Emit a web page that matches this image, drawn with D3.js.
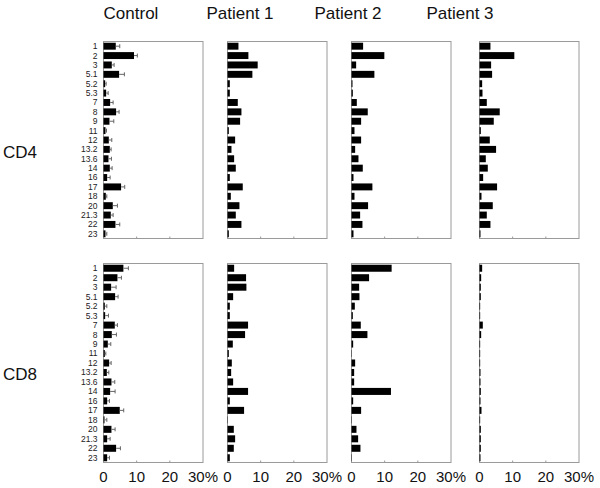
<!DOCTYPE html>
<html><head><meta charset="utf-8">
<script src="https://cdn.jsdelivr.net/npm/d3@7"></script>
<style>body{margin:0;background:#fff}svg{display:block}text{font-family:"Liberation Sans",Arial,sans-serif}</style>
</head><body><div id="chart"></div>
<script>
const categories = ["1","2","3","5.1","5.2","5.3","7","8","9","11","12","13.2","13.6","14","16","17","18","20","21.3","22","23"];
const groups = ["Control","Patient 1","Patient 2","Patient 3"];
const rows = ["CD4","CD8"];
const xTicks = [0,10,20,30];
const xTickLabels = ["0","10","20","30%"];

const cd4Control    = [3.7,9.2,2.5,4.7,0.5,0.8,2.0,3.8,1.8,0.6,1.6,1.9,1.5,1.9,1.1,5.3,0.7,2.8,2.2,3.6,0.6];
const cd4ControlErr = [1.2,1.0,0.7,1.6,0.3,0.6,0.9,0.9,1.3,0.3,0.9,0.4,0.9,0.7,0.9,1.1,0.3,1.4,0.7,1.3,0.4];
const cd4Patient1   = [3.3,6.3,9.1,7.5,0.7,0.7,3.1,4.2,3.8,0.4,2.3,1.2,2.0,2.5,0.7,4.6,1.0,3.6,2.5,4.2,0.4];
const cd4Patient2   = [3.5,9.9,1.4,6.9,0.3,0.4,1.6,4.9,2.9,0.9,2.9,1.1,2.1,3.4,0.6,6.3,0.9,5.0,2.6,3.3,0.6];
const cd4Patient3   = [3.3,10.5,3.5,3.8,0.8,0.9,2.2,6.1,4.3,0.4,3.1,5.0,1.9,2.5,1.1,5.3,0.6,4.0,2.2,3.3,0.3];

const cd8Control    = [6.0,4.2,2.3,3.5,0.4,0.5,3.4,2.5,1.3,0.4,1.7,1.0,2.4,2.0,1.1,4.9,0.3,2.4,1.1,3.8,1.1];
const cd8ControlErr = [1.5,1.2,1.5,0.9,0.6,1.0,0.8,1.4,0.9,0.3,0.6,0.6,1.0,1.5,0.7,1.2,0.7,1.1,0.9,1.3,0.7];
const cd8Patient1   = [2.0,5.6,5.7,1.7,0.7,0.7,6.2,5.3,1.6,0.4,1.3,1.1,1.7,6.2,0.7,5.0,0.1,1.9,2.3,1.9,0.7];
const cd8Patient2   = [12.1,5.3,2.3,2.4,1.0,0.4,2.8,4.8,0.5,0.1,1.1,0.8,0.8,11.9,0.5,2.9,0.1,1.5,2.0,2.7,0.1];
const cd8Patient3   = [0.8,0.5,0.4,0.4,0.2,0.2,1.0,0.5,0.2,0.2,0.2,0.3,0.3,0.4,0.3,0.6,0.2,0.4,0.4,0.4,0.3];

const panels = [
  {row:0,col:0,vals:cd4Control,err:cd4ControlErr},
  {row:0,col:1,vals:cd4Patient1},
  {row:0,col:2,vals:cd4Patient2},
  {row:0,col:3,vals:cd4Patient3},
  {row:1,col:0,vals:cd8Control,err:cd8ControlErr},
  {row:1,col:1,vals:cd8Patient1},
  {row:1,col:2,vals:cd8Patient2},
  {row:1,col:3,vals:cd8Patient3}
];

const W=600,H=488;
const svg=d3.select("#chart").append("svg").attr("width",W).attr("height",H);
const colX=[103.5,227.5,351.5,479.5];
const pw=99.5;
const rowY=[41.5,263.5];
const ph=[197,199];
const titleX=[131,240,348,460];
const rowLabelY=[158,380];

groups.forEach((g,i)=>{
  svg.append("text").attr("x",titleX[i]).attr("y",19).attr("text-anchor","middle")
    .attr("font-size",17).attr("fill","#111").text(g);
});
rows.forEach((r,i)=>{
  svg.append("text").attr("x",3).attr("y",rowLabelY[i]).attr("font-size",17).attr("fill","#111").text(r);
});

panels.forEach(p=>{
  const x0=colX[p.col], y0=rowY[p.row], h=ph[p.row];
  const x=d3.scaleLinear().domain([0,30]).range([x0,x0+pw]);
  const y=d3.scaleBand().domain(categories).range([y0,y0+h]).paddingInner(0.26).paddingOuter(0.13);
  const g=svg.append("g");
  g.append("rect").attr("x",x0).attr("y",y0).attr("width",pw).attr("height",h)
    .attr("fill","none").attr("stroke","#9a9a9a").attr("stroke-width",1);
  g.selectAll(".tk").data(xTicks.slice(1,3)).enter().append("line")
    .attr("x1",d=>x(d)).attr("x2",d=>x(d)).attr("y1",y0+h).attr("y2",y0+h-2)
    .attr("stroke","#9a9a9a");
  g.selectAll(".bar").data(p.vals).enter().append("rect")
    .attr("x",x(0)).attr("y",(d,i)=>y(categories[i]))
    .attr("width",d=>x(d)-x(0)).attr("height",y.bandwidth()).attr("fill","#000");
  if(p.err){
    g.selectAll(".eb").data(p.vals).enter().append("line")
      .attr("x1",d=>x(d)).attr("x2",(d,i)=>x(d+p.err[i]))
      .attr("y1",(d,i)=>y(categories[i])+y.bandwidth()/2).attr("y2",(d,i)=>y(categories[i])+y.bandwidth()/2)
      .attr("stroke","#666").attr("stroke-width",1);
    g.selectAll(".ec").data(p.vals).enter().append("line")
      .attr("x1",(d,i)=>x(d+p.err[i])).attr("x2",(d,i)=>x(d+p.err[i]))
      .attr("y1",(d,i)=>y(categories[i])+y.bandwidth()/2-2).attr("y2",(d,i)=>y(categories[i])+y.bandwidth()/2+2)
      .attr("stroke","#666").attr("stroke-width",1);
  }
  if(p.col===0){
    g.selectAll(".cl").data(categories).enter().append("text")
      .attr("x",x0-6).attr("y",d=>y(d)+y.bandwidth()/2).attr("dy","0.35em")
      .attr("text-anchor","end").attr("font-size",8.5).attr("fill","#222").text(d=>d);
  }
  if(p.row===1){
    g.selectAll(".tl").data(xTicks).enter().append("text")
      .attr("x",d=>x(d)).attr("y",y0+h+19).attr("text-anchor","middle")
      .attr("font-size",15).attr("fill","#111").text((d,i)=>xTickLabels[i]);
  }
});
</script></body></html>
